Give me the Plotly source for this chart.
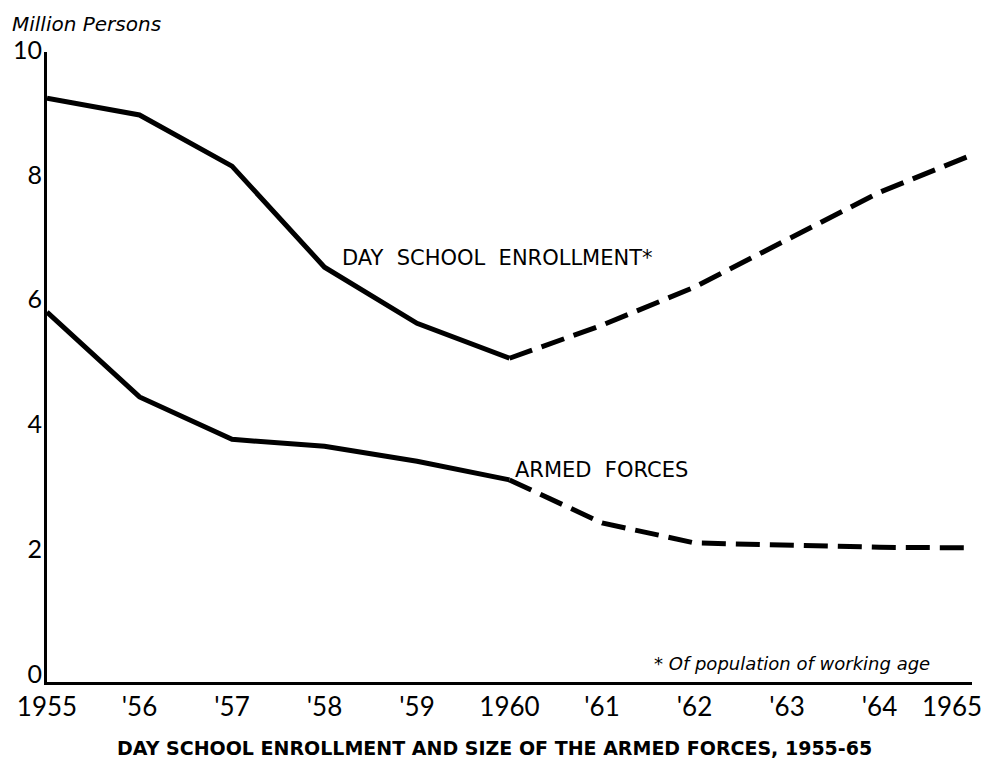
import plotly.graph_objects as go

years = [1955, 1956, 1957, 1958, 1959, 1960, 1961, 1962, 1963, 1964, 1965]
year_labels = ["1955", "'56", "'57", "'58", "'59", "1960", "'61", "'62", "'63", "'64",
               "1965" + "\u00a0" * 6]
day_school = [9.36, 9.09, 8.27, 6.65, 5.75, 5.19, 5.72, 6.33, 7.08, 7.85, 8.45]
armed_forces = [5.93, 4.57, 3.89, 3.78, 3.54, 3.24, 2.55, 2.23, 2.19, 2.16, 2.15]
y_ticks = [0, 2, 4, 6, 8, 10]

SPLIT = 5  # index of 1960: solid before, dashed after (projection)

fig = go.Figure()
for series in (day_school, armed_forces):
    fig.add_trace(go.Scatter(x=years[:SPLIT + 1], y=series[:SPLIT + 1], mode="lines",
                             line=dict(color="black", width=5), showlegend=False))
    fig.add_trace(go.Scatter(x=years[SPLIT:], y=series[SPLIT:], mode="lines",
                             line=dict(color="black", width=5, dash="24px,10px"),
                             showlegend=False))

font_main = "DejaVu Sans"
tick_font = "Lato"
NB = "\u00a0"

fig.update_layout(
    width=977, height=759,
    margin=dict(l=39, r=13, t=44, b=85, autoexpand=False),
    paper_bgcolor="white", plot_bgcolor="white",
    font=dict(family=font_main, color="black"),
    xaxis=dict(range=[1955, 1965], tickvals=years, ticktext=year_labels,
               showline=True, linecolor="black", linewidth=2.5, showgrid=False,
               zeroline=False, ticks="", tickfont=dict(size=26, family=tick_font),
               ticklabeloverflow="allow", automargin=False, fixedrange=True),
    yaxis=dict(range=[0, 10.1], tickvals=y_ticks, showline=True, linecolor="black",
               linewidth=3, showgrid=False, zeroline=False, ticks="",
               tickfont=dict(size=25, family=tick_font), ticklabelshift=-8,
               ticklabelstandoff=-3, ticklabeloverflow="allow", automargin=False,
               fixedrange=True),
    annotations=[
        dict(text="<i>Million Persons</i>", xref="paper", yref="paper", x=-0.04, y=1.045,
             xanchor="left", yanchor="middle", showarrow=False,
             font=dict(size=20, family=font_main)),
        dict(text=f"DAY{NB}{NB}SCHOOL{NB}{NB}ENROLLMENT*", xref="x", yref="y", x=1958.17, y=6.79,
             xanchor="left", yanchor="middle", showarrow=False,
             font=dict(size=21, family=font_main)),
        dict(text=f"ARMED{NB}{NB}FORCES", xref="x", yref="y", x=1960.04, y=3.4,
             xanchor="left", yanchor="middle", showarrow=False,
             font=dict(size=21, family=font_main)),
        dict(text="<i>* Of population of working age</i>", xref="x", yref="y", x=1961.54, y=0.3,
             xanchor="left", yanchor="middle", showarrow=False,
             font=dict(size=18, family=font_main)),
        dict(text="<b>DAY SCHOOL ENROLLMENT AND SIZE OF THE ARMED FORCES, 1955-65</b>",
             xref="paper", yref="paper", x=0.484, y=-0.105, xanchor="center", yanchor="middle",
             showarrow=False, font=dict(size=19, family=font_main)),
    ],
)

fig.write_html("out.html")
